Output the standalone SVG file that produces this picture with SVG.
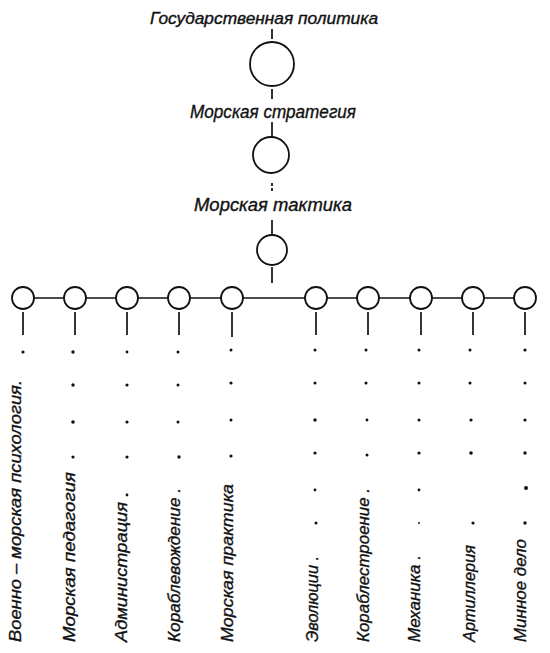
<svg xmlns="http://www.w3.org/2000/svg" width="550" height="653" viewBox="0 0 550 653">
<style>
.ln{stroke:#111;stroke-width:1.7;fill:none;stroke-linecap:butt}
.nd{stroke:#111;stroke-width:1.8;fill:#fff}
.dt{fill:#111}
.t{font-family:"Liberation Sans","DejaVu Sans",sans-serif;font-style:italic;fill:#111;stroke:#111;stroke-width:0.35}
.tv{font-family:"Liberation Sans","DejaVu Sans",sans-serif;font-style:italic;fill:#111;stroke:#111;stroke-width:0.35;font-size:17px}
</style>
<rect width="550" height="653" fill="#fff"/>
<g id="connectors">
<line class="ln" x1="272" y1="29" x2="272" y2="39"/>
<line class="ln" x1="272" y1="89" x2="272" y2="99"/>
<line class="ln" x1="272" y1="122" x2="272" y2="137"/>
<line class="ln" x1="272" y1="183" x2="272" y2="192" stroke-dasharray="3,2"/>
<line class="ln" x1="272" y1="220" x2="272" y2="234"/>
<line class="ln" x1="272" y1="267" x2="272" y2="283"/>
<line class="ln" x1="23" y1="298" x2="525" y2="298"/>
<g id="stems">
<line class="ln" x1="23" y1="312" x2="23" y2="335"/>
<line class="ln" x1="75" y1="312" x2="75" y2="335"/>
<line class="ln" x1="127" y1="312" x2="127" y2="335"/>
<line class="ln" x1="179" y1="312" x2="179" y2="335"/>
<line class="ln" x1="232" y1="312" x2="232" y2="337"/>
<line class="ln" x1="316" y1="312" x2="316" y2="335"/>
<line class="ln" x1="368" y1="312" x2="368" y2="335"/>
<line class="ln" x1="421" y1="312" x2="421" y2="335"/>
<line class="ln" x1="473" y1="312" x2="473" y2="335"/>
<line class="ln" x1="525" y1="312" x2="525" y2="335"/>
</g>
</g>
<g id="n-politika">
<text class="t" x="264" y="24" font-size="16" text-anchor="middle" textLength="228" lengthAdjust="spacingAndGlyphs">Государственная политика</text>
<circle class="nd" cx="272" cy="64" r="22"/>
</g>
<g id="n-strategia">
<text class="t" x="273" y="118" font-size="18" text-anchor="middle" textLength="166" lengthAdjust="spacingAndGlyphs">Морская стратегия</text>
<circle class="nd" cx="271" cy="155" r="18"/>
</g>
<g id="n-taktika">
<text class="t" x="273" y="211" font-size="18" text-anchor="middle" textLength="158" lengthAdjust="spacingAndGlyphs">Морская тактика</text>
<circle class="nd" cx="272" cy="250" r="15"/>
</g>
<g id="n1">
<circle class="nd" cx="23" cy="298" r="11"/>
<circle class="dt" cx="23" cy="352" r="1.6"/>
<text class="tv" transform="translate(21,642) rotate(-90)" textLength="262" lengthAdjust="spacingAndGlyphs">Военно – морская  психология.</text>
</g>
<g id="n2">
<circle class="nd" cx="75" cy="298" r="11"/>
<g class="dt"><circle cx="73" cy="352" r="1.7"/><circle cx="73" cy="385" r="1.7"/><circle cx="73" cy="422" r="1.8"/><circle cx="73" cy="457" r="1.6"/></g>
<text class="tv" transform="translate(75,642) rotate(-90)" textLength="170" lengthAdjust="spacingAndGlyphs">Морская педагогия</text>
</g>
<g id="n3">
<circle class="nd" cx="127" cy="298" r="11"/>
<g class="dt"><circle cx="127" cy="352" r="1.4"/><circle cx="127" cy="385" r="1.6"/><circle cx="127" cy="422" r="1.6"/><circle cx="127" cy="457" r="1.6"/><circle cx="127" cy="495" r="1.4"/></g>
<text class="tv" transform="translate(127,642) rotate(-90)" textLength="140" lengthAdjust="spacingAndGlyphs">Администрация</text>
</g>
<g id="n4">
<circle class="nd" cx="179" cy="298" r="11"/>
<g class="dt"><circle cx="178" cy="352" r="1.5"/><circle cx="178" cy="385" r="1.5"/><circle cx="178" cy="422" r="1.5"/><circle cx="179" cy="457" r="1.7"/></g>
<text class="tv" transform="translate(180,642) rotate(-90)" textLength="154" lengthAdjust="spacingAndGlyphs">Кораблевождение .</text>
</g>
<g id="n5">
<circle class="nd" cx="232" cy="298" r="11"/>
<g class="dt"><circle cx="231" cy="350" r="1.5"/><circle cx="231" cy="383" r="1.6"/><circle cx="231" cy="420" r="1.5"/><circle cx="231" cy="456" r="1.6"/></g>
<text class="tv" transform="translate(233,642) rotate(-90)" textLength="158" lengthAdjust="spacingAndGlyphs">Морская практика</text>
</g>
<g id="n6">
<circle class="nd" cx="316" cy="298" r="11"/>
<g class="dt"><circle cx="315" cy="350" r="1.5"/><circle cx="315" cy="383" r="1.5"/><circle cx="315" cy="420" r="1.7"/><circle cx="315" cy="453" r="1.6"/><circle cx="315" cy="490" r="1.4"/><circle cx="316" cy="523" r="1.5"/></g>
<text class="tv" transform="translate(318,642) rotate(-90)" textLength="86" lengthAdjust="spacingAndGlyphs">Эволюции .</text>
</g>
<g id="n7">
<circle class="nd" cx="368" cy="298" r="11"/>
<g class="dt"><circle cx="366" cy="350" r="1.5"/><circle cx="366" cy="383" r="1.5"/><circle cx="367" cy="420" r="1.4"/><circle cx="367" cy="455" r="1.5"/></g>
<text class="tv" transform="translate(369,642) rotate(-90)" textLength="154" lengthAdjust="spacingAndGlyphs">Кораблестроение .</text>
</g>
<g id="n8">
<circle class="nd" cx="421" cy="298" r="11"/>
<g class="dt"><circle cx="419" cy="350" r="1.5"/><circle cx="419" cy="383" r="1.5"/><circle cx="419" cy="420" r="1.5"/><circle cx="419" cy="453" r="1.6"/><circle cx="419" cy="490" r="1.4"/><circle cx="419" cy="523" r="1"/></g>
<text class="tv" transform="translate(420,642) rotate(-90)" textLength="87" lengthAdjust="spacingAndGlyphs">Механика .</text>
</g>
<g id="n9">
<circle class="nd" cx="473" cy="298" r="11"/>
<g class="dt"><circle cx="470" cy="350" r="1.5"/><circle cx="470" cy="383" r="1.5"/><circle cx="471" cy="420" r="1.6"/><circle cx="471" cy="453" r="1.8"/><circle cx="473" cy="523" r="1.6"/></g>
<text class="tv" transform="translate(475,642) rotate(-90)" textLength="97" lengthAdjust="spacingAndGlyphs">Артиллерия</text>
</g>
<g id="n10">
<circle class="nd" cx="525" cy="298" r="11"/>
<g class="dt"><circle cx="525" cy="350" r="1.6"/><circle cx="525" cy="383" r="1.5"/><circle cx="525" cy="420" r="1.6"/><circle cx="525" cy="453" r="1.7"/><circle cx="526" cy="488" r="2"/><circle cx="525" cy="523" r="1.7"/></g>
<text class="tv" transform="translate(526,642) rotate(-90)" textLength="103" lengthAdjust="spacingAndGlyphs">Минное дело</text>
</g>
</svg>
